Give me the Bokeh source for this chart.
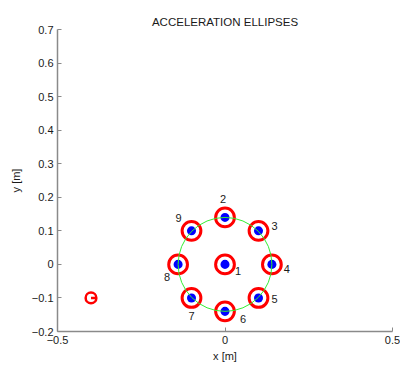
from bokeh.plotting import figure
from bokeh.models import Range1d, ColumnDataSource
from bokeh.embed import file_html
from bokeh.resources import INLINE
from bokeh.core.properties import value

# data
px = [0.0, 0.0, 0.1, 0.14, 0.1, 0.0, -0.1, -0.14, -0.1]
py = [0.0, 0.14, 0.1, 0.0, -0.1, -0.14, -0.1, 0.0, 0.1]
labels = ["1", "2", "3", "4", "5", "6", "7", "8", "9"]
ring_d = 0.056
dot_d = 0.027
circle_r = 0.14
ref_x = [-0.4]
ref_y = [-0.1]
ref_d = 0.032
xticks = [-0.5, 0, 0.5]
xtick_labels = ["\u22120.5", "0", "0.5"]
yticks = [-0.2, -0.1, 0, 0.1, 0.2, 0.3, 0.4, 0.5, 0.6, 0.7]
ytick_labels = ["\u22120.2", "\u22120.1", "0", "0.1", "0.2", "0.3", "0.4", "0.5", "0.6", "0.7"]

# label pixel offsets (style, screen px; +y is down)
lab_dx = [13, -2, 16, 15, 16, 18, 0, -11, -13]
lab_dy = [7, -18, -5, 5, 1, 8, 18, 13, -13]

FONT = "Liberation Sans"
TXT = "#1a1a1a"

p = figure(width=400, height=365, output_backend="svg", toolbar_location=None,
           x_range=Range1d(-0.5, 0.5), y_range=Range1d(-0.2, 0.7),
           min_border_left=57, min_border_right=8, min_border_top=29, min_border_bottom=34)
p.outline_line_color = None
p.grid.visible = False
p.background_fill_color = "white"
p.border_fill_color = "white"

p.title.text = "ACCELERATION ELLIPSES"
p.title.align = "center"
p.title.text_font = FONT
p.title.text_font_size = "11.5px"
p.title.text_font_style = "normal"
p.title.text_color = TXT
p.title.offset = 0
p.title.standoff = 4

for ax in (p.xaxis[0], p.yaxis[0]):
    ax.axis_line_color = "#8a8a8a"
    ax.axis_line_width = 1.5
    ax.major_tick_line_color = "#8a8a8a"
    ax.major_tick_in = 4
    ax.major_tick_out = 0
    ax.minor_tick_line_color = None
    ax.major_label_text_font = FONT
    ax.major_label_text_font_size = "11px"
    ax.major_label_text_color = TXT
    ax.axis_label_text_font = FONT
    ax.axis_label_text_font_size = "11px"
    ax.axis_label_text_font_style = "normal"
    ax.axis_label_text_color = TXT

p.xaxis.ticker = xticks
p.xaxis.major_label_overrides = dict(zip(xticks, xtick_labels))
p.yaxis.ticker = yticks
p.yaxis.major_label_overrides = dict(zip(yticks, ytick_labels))
p.xaxis.axis_label = "x [m]"
p.yaxis.axis_label = "y [m]"
p.xaxis.major_label_standoff = 4
p.yaxis.major_label_standoff = 4
p.xaxis.axis_label_standoff = 3
p.yaxis.axis_label_standoff = 7

src = ColumnDataSource(dict(x=px, y=py, lab=labels, dx=lab_dx, dy=lab_dy))
p.ellipse(x="x", y="y", width=ring_d, height=ring_d, source=src,
          fill_color=None, line_color="#ff0000", line_width=3)
p.ellipse(x="x", y="y", width=dot_d, height=dot_d, source=src,
          fill_color="#0000ff", line_color=None)

# green circle (drawn on top, as in the reference)
p.ellipse(x=[0], y=[0], width=2 * circle_r, height=2 * circle_r,
          fill_color=None, line_color="#33ee33", line_width=1)

p.text(x="x", y="y", text="lab", x_offset="dx", y_offset="dy", source=src,
       text_font=value(FONT), text_font_size="11px", text_color=TXT,
       text_align="center", text_baseline="middle")

# reference ellipse with radius line
p.ellipse(x=ref_x, y=ref_y, width=ref_d, height=ref_d,
          fill_color=None, line_color="#ff0000", line_width=2.5)
p.segment(x0=ref_x, y0=ref_y, x1=[ref_x[0] + ref_d / 2], y1=ref_y,
          line_color="#ff0000", line_width=2.5)

open("out.html", "w").write(file_html(p, INLINE))
